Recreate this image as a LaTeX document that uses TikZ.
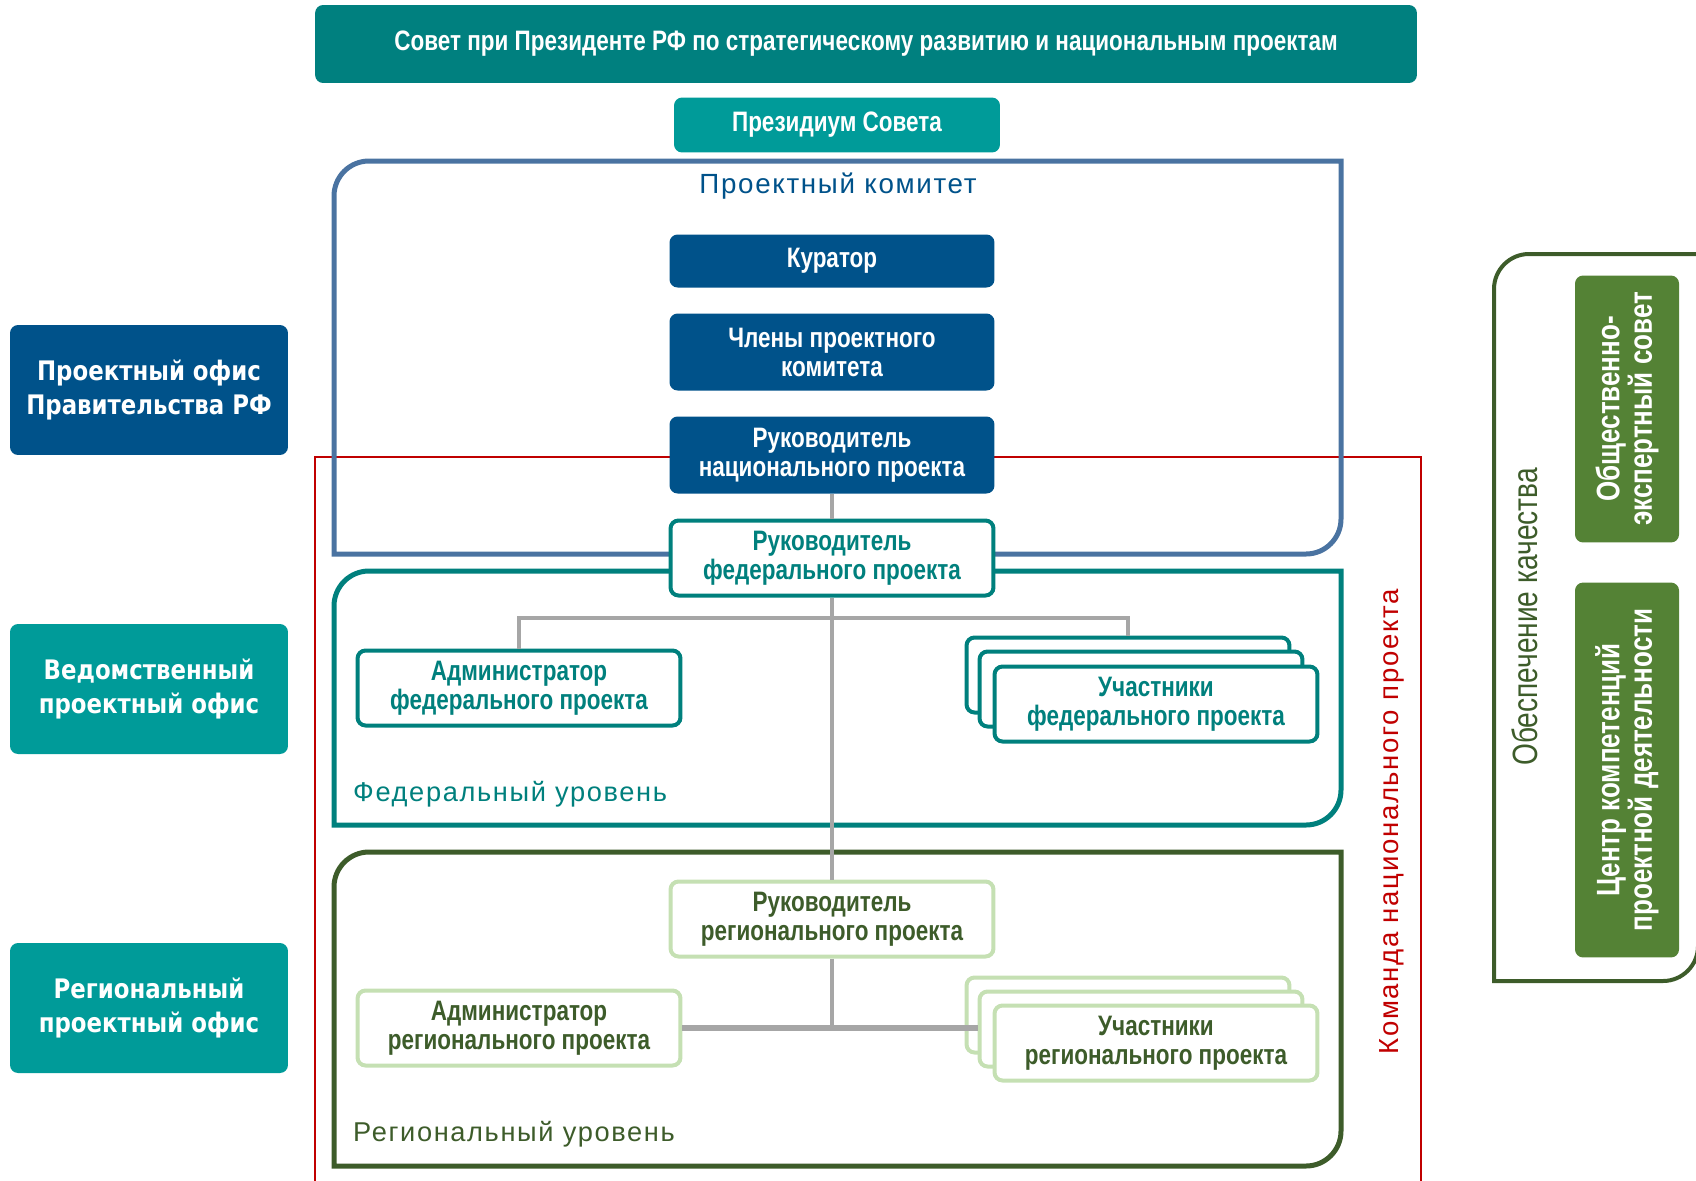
\documentclass[tikz,border=0pt]{standalone}
\usepackage{fontspec}
\setmainfont{Liberation Sans}
\newfontfamily\narrowfont[FakeStretch=0.8]{Liberation Sans}
\newfontfamily\spacedfont[LetterSpace=6]{Liberation Sans}
\newfontfamily\widefont[FakeStretch=0.85]{DejaVu Sans}
\usepackage{tikz}

\definecolor{sovetteal}{HTML}{00807F}
\definecolor{lightteal}{HTML}{009B99}
\definecolor{navy}{HTML}{00528A}
\definecolor{steel}{HTML}{4A73A1}
\definecolor{fedteal}{HTML}{00807D}
\definecolor{darkgreen}{HTML}{3D5C2A}
\definecolor{palegreen}{HTML}{C5E0B3}
\definecolor{midgreen}{HTML}{548235}
\definecolor{teamred}{HTML}{C00000}
\definecolor{linegray}{HTML}{A6A6A6}

\tikzset{
  box/.style={rounded corners=1.6mm, align=center, inner sep=0pt,
    font=\narrowfont\bfseries\fontsize{16}{16.5}\selectfont},
  solidbox/.style={box, fill=#1, text=white},
  fedbox/.style={box, draw=fedteal, line width=0.8mm, fill=white, text=fedteal,
    minimum width=6.46cm, minimum height=1.5cm},
  regbox/.style={box, draw=palegreen, line width=0.8mm, fill=white, text=darkgreen,
    minimum width=6.46cm, minimum height=1.5cm},
  officebox/.style={rounded corners=1.6mm, fill=#1, text=white, align=center,
    minimum width=5.56cm, minimum height=2.6cm,
    font=\widefont\bfseries\fontsize{15.3}{19.5}\selectfont},
  qualitybox/.style={box, fill=midgreen, text=white, rotate=90, minimum height=2.08cm,
    font=\narrowfont\bfseries\fontsize{18.5}{18.5}\selectfont},
  frame/.style={line width=1mm},
  link/.style={linegray, line width=0.8mm}
}

\begin{document}
\begin{tikzpicture}[x=0.02cm, y=-0.02cm]
\useasboundingbox (0,0) rectangle (1696,1180);

\draw[teamred, line width=0.4mm] (315,1200) -- (315,457) -- (1421,457) -- (1421,1200);
\draw[frame, steel] (334,554) -- (334,196) arc[start angle=180, end angle=270, radius=35]
  -- (1341,161) -- (1341,519) arc[start angle=0, end angle=90, radius=35] -- cycle;
\draw[frame, fedteal] (334,825) -- (334,606) arc[start angle=180, end angle=270, radius=35]
  -- (1341,571) -- (1341,790) arc[start angle=0, end angle=90, radius=35] -- cycle;
\draw[frame, darkgreen] (334,1166) -- (334,887) arc[start angle=180, end angle=270, radius=35]
  -- (1341,852) -- (1341,1131) arc[start angle=0, end angle=90, radius=35] -- cycle;
\draw[frame, darkgreen, line width=0.8mm] (1494,981) -- (1494,289) arc[start angle=180, end angle=270, radius=35]
  -- (1698,254) -- (1698,946) arc[start angle=0, end angle=90, radius=35] -- cycle;

\node[text=navy, font=\spacedfont\fontsize{15.8}{18}\selectfont] (komitet) at (838,186) {Проектный комитет};
\node[anchor=west, text=fedteal, font=\spacedfont\fontsize{15.5}{18}\selectfont] (fedlevel) at (347,794) {Федеральный уровень};
\node[anchor=west, text=darkgreen, font=\spacedfont\fontsize{15.5}{18}\selectfont] (reglevel) at (347,1134) {Региональный уровень};
\node[rotate=90, text=teamred, font=\spacedfont\fontsize{15.7}{18}\selectfont] (team) at (1392,822) {Команда национального проекта};
\node[rotate=90, text=darkgreen, font=\narrowfont\fontsize{20}{20}\selectfont] (quality) at (1525,617) {Обеспечение качества};

\node[solidbox=sovetteal, minimum width=22.04cm, minimum height=1.56cm] (sovet) at (866,44)
  {Совет при Президенте РФ по стратегическому развитию и национальным проектам};
\node[solidbox=lightteal, minimum width=6.52cm, minimum height=1.1cm] (prezidium) at (837,125) {Президиум Совета};
\node[solidbox=navy, minimum width=6.5cm, minimum height=1.06cm] (kurator) at (832,261) {Куратор};
\node[solidbox=navy, minimum width=6.5cm, minimum height=1.54cm] (chleny) at (832,352) {Члены проектного\\комитета};
\node[solidbox=navy, minimum width=6.5cm, minimum height=1.54cm] (rukNat) at (832,455) {Руководитель\\национального проекта};

\node[fedbox] (rukFed) at (832,558) {Руководитель\\федерального проекта};
\node[fedbox] (admFed) at (519,688) {Администратор\\федерального проекта};
\node[fedbox] (uchFedA) at (1128,675) {};
\node[fedbox] (uchFedB) at (1141,689) {};
\node[fedbox] (uchFedC) at (1156,704) {Участники\\федерального проекта};

\node[regbox] (rukReg) at (832,919) {Руководитель\\регионального проекта};
\node[regbox] (admReg) at (519,1028) {Администратор\\регионального проекта};
\node[regbox] (uchRegA) at (1128,1015) {};
\node[regbox] (uchRegB) at (1141,1029) {};
\node[regbox] (uchRegC) at (1156,1043) {Участники\\регионального проекта};

\node[officebox=navy] (pofRF) at (149,390) {Проектный офис\\Правительства РФ};
\node[officebox=lightteal] (vedPO) at (149,689) {Ведомственный\\проектный офис};
\node[officebox=lightteal] (regPO) at (149,1008) {Региональный\\проектный офис};

\node[qualitybox, minimum width=5.34cm] (oes) at (1627,409) {Общественно-\\экспертный совет};
\node[qualitybox, minimum width=7.5cm] (ckpd) at (1627,770) {Центр компетенций\\проектной деятельности};

\coordinate (fedbar) at (832,618);
\draw[link] (rukNat) -- (rukFed);
\draw[link] (rukFed) -- (rukReg);
\draw[link] (admFed.north) |- (fedbar) -| (uchFedA.north);
\draw[link] (rukReg.south) -- (rukReg.south |- admReg.east);
\draw[link, line width=1.1mm] (admReg.east) -- (admReg.east -| uchRegB.west);

\end{tikzpicture}
\end{document}
